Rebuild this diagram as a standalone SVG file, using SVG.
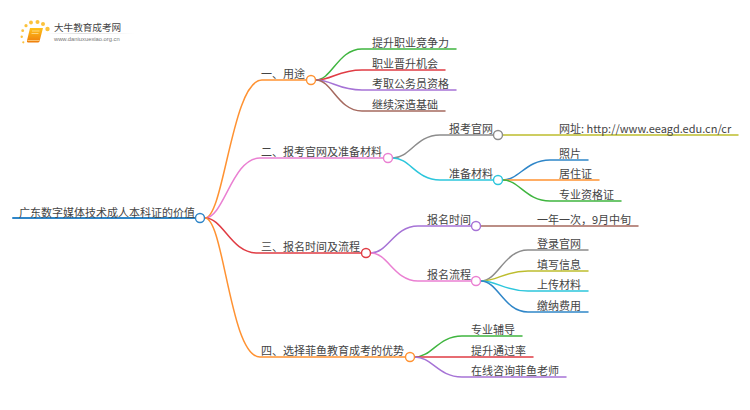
<svg xmlns="http://www.w3.org/2000/svg" width="750" height="410" viewBox="0 0 750 410">
<style>
text{font-family:"Noto Sans CJK SC","Liberation Sans",sans-serif;fill:#444}
.t{font-size:11px}
.c path{fill:none;stroke-width:1.5;stroke-linecap:round}
.n{fill:#fff;stroke-width:1.4}
.or{stroke:#ff9232}.pk{stroke:#ea80d2}.rd{stroke:#e03c44}.gn{stroke:#3fb53f}.pu{stroke:#a673d6}.br{stroke:#a5695f}.gy{stroke:#8c8c8c}.cy{stroke:#2cc6dc}.bl{stroke:#2f86c8}.ol{stroke:#bdbd2e}
</style>
<defs>
<linearGradient id="bk" x1="0" y1="0" x2="0" y2="1"><stop offset="0" stop-color="#ffc21a"/><stop offset="1" stop-color="#ee7d0c"/></linearGradient>
<linearGradient id="ln" x1="0" y1="0" x2="1" y2="0"><stop offset="0" stop-color="#ddd" stop-opacity="0"/><stop offset=".4" stop-color="#ddd"/><stop offset="1" stop-color="#ddd" stop-opacity="0"/></linearGradient>
</defs>
<g id="logo">
<g fill="#fbc23c"><circle cx="47.5" cy="29" r="2.200"/><circle cx="43" cy="24" r="2"/><circle cx="37.500" cy="22" r="2"/><circle cx="31" cy="22.500" r="1.900"/><circle cx="26" cy="25.700" r="1.600"/><circle cx="22.700" cy="30.700" r="1.400"/><circle cx="21.700" cy="36.700" r="1.200"/><circle cx="23.300" cy="42.300" r="1.100"/></g>
<path d="M30 28H43L39.500 41.500Q39 42.500 38 42.500H28Q26.500 42.500 27 40.500Z" fill="url(#bk)"/><path d="M27.500 40.500H39.500" stroke="#ffe0a0" stroke-width=".7"/><path d="M32 31H39.500M31.500 33.500H38.500" stroke="#ffe6a8" stroke-width=".7"/>
<rect x="46" y="33" width="88" height="1" fill="url(#ln)"/>
<text x="54" y="31" style="font-size:9.600px">大牛教育成考网</text>
<text x="54" y="41" style="font-size:5.800px;font-family:'Liberation Sans',sans-serif;fill:#777">www.daniuxuexiao.org.cn</text>
</g>
<g id="connectors" class="c">
<path class="bl" style="stroke-width:2" d="M13 218H196"/>
<path class="or" d="M205 218C224 218 232 80 262 80H306"/>
<path class="pk" d="M205 218C224 218 232 158 260 158H383"/>
<path class="rd" d="M205 218C224 218 230 253 258 253H361"/>
<path class="or" d="M205 218C224 218 230 357 260 357H405"/>
<path class="gn" d="M316 80C332 80 338 49 362 49H456"/>
<path class="rd" d="M316 80C332 80 338 70 362 70H445"/>
<path class="pu" d="M316 80C332 80 338 90 362 90H456"/>
<path class="br" d="M316 80C332 80 338 111 362 111H445"/>
<path class="gy" d="M393 158C410 158 416 135 440 135H493"/>
<path class="cy" d="M393 158C410 158 416 180 440 180H493"/>
<path class="ol" d="M503 135H738"/>
<path class="bl" d="M503 180C519 180 526 160 550 160H588"/>
<path class="or" d="M503 180H599"/>
<path class="gn" d="M503 180C519 180 526 201 550 201H621"/>
<path class="pu" d="M371 253C388 253 394 226 418 226H471"/>
<path class="pk" d="M371 253C388 253 394 281 418 281H471"/>
<path class="br" d="M481 226H638"/>
<path class="gy" d="M481 281C498 281 504 250 528 250H588"/>
<path class="ol" d="M481 281C498 281 504 271 528 271H588"/>
<path class="cy" d="M481 281C498 281 504 291 528 291H588"/>
<path class="bl" d="M481 281C498 281 504 312 528 312H588"/>
<path class="gn" d="M415 357C432 357 438 336 462 336H522"/>
<path class="rd" d="M415 357H533"/>
<path class="pu" d="M415 357C432 357 438 377 462 377H566"/>
</g>
<g id="root"><text class="t" x="19" y="216.500">广东数字媒体技术成人本科证的价值</text><circle class="n bl" cx="200" cy="218" r="4.500"/></g>
<g id="b1"><text class="t" x="261" y="77.500">一、用途</text><circle class="n or" cx="311" cy="80" r="4.500"/></g>
<g id="b1-1"><text class="t" x="372" y="46.500">提升职业竞争力</text></g>
<g id="b1-2"><text class="t" x="372" y="67.500">职业晋升机会</text></g>
<g id="b1-3"><text class="t" x="372" y="87.500">考取公务员资格</text></g>
<g id="b1-4"><text class="t" x="372" y="108.500">继续深造基础</text></g>
<g id="b2"><text class="t" x="261" y="155.500">二、报考官网及准备材料</text><circle class="n pk" cx="388" cy="158" r="4.500"/></g>
<g id="b2-1"><text class="t" x="449" y="132.500">报考官网</text><circle class="n gy" cx="498" cy="135" r="4.500"/></g>
<g id="b2-1-1"><text class="t" x="559" y="132.500">网址: http://www.eeagd.edu.cn/cr</text></g>
<g id="b2-2"><text class="t" x="449" y="177.500">准备材料</text><circle class="n cy" cx="498" cy="180" r="4.500"/></g>
<g id="b2-2-1"><text class="t" x="559" y="157.500">照片</text></g>
<g id="b2-2-2"><text class="t" x="559" y="177.500">居住证</text></g>
<g id="b2-2-3"><text class="t" x="559" y="198.500">专业资格证</text></g>
<g id="b3"><text class="t" x="261" y="250.500">三、报名时间及流程</text><circle class="n rd" cx="366" cy="253" r="4.500"/></g>
<g id="b3-1"><text class="t" x="427" y="223.500">报名时间</text><circle class="n pu" cx="476" cy="226" r="4.500"/></g>
<g id="b3-1-1"><text class="t" x="537" y="223.500">一年一次，9月中旬</text></g>
<g id="b3-2"><text class="t" x="427" y="278.500">报名流程</text><circle class="n pk" cx="476" cy="281" r="4.500"/></g>
<g id="b3-2-1"><text class="t" x="537" y="247.500">登录官网</text></g>
<g id="b3-2-2"><text class="t" x="537" y="268.500">填写信息</text></g>
<g id="b3-2-3"><text class="t" x="537" y="288.500">上传材料</text></g>
<g id="b3-2-4"><text class="t" x="537" y="309.500">缴纳费用</text></g>
<g id="b4"><text class="t" x="261" y="354.500">四、选择菲鱼教育成考的优势</text><circle class="n or" cx="410" cy="357" r="4.500"/></g>
<g id="b4-1"><text class="t" x="471" y="333.500">专业辅导</text></g>
<g id="b4-2"><text class="t" x="471" y="354.500">提升通过率</text></g>
<g id="b4-3"><text class="t" x="471" y="374.500">在线咨询菲鱼老师</text></g>
</svg>
